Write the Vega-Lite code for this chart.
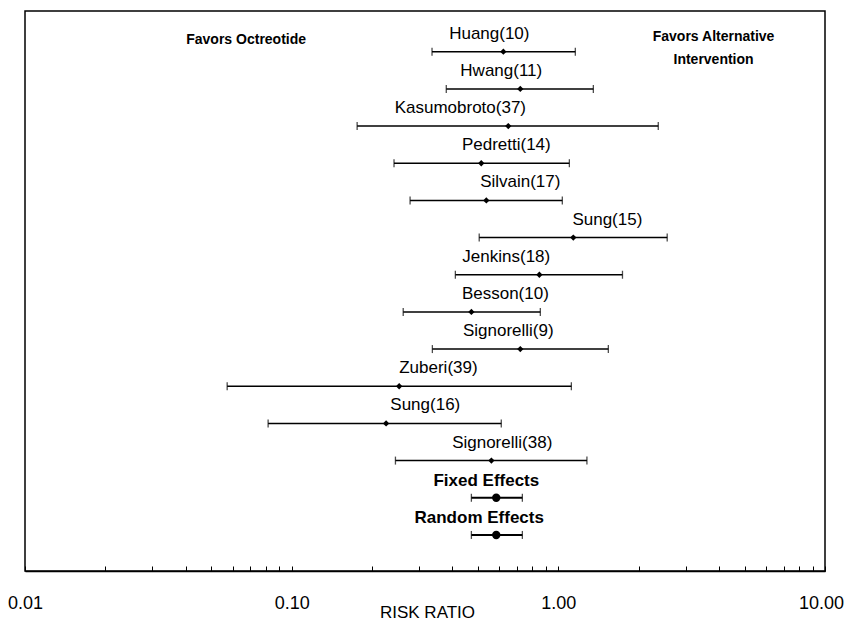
{
  "$schema": "https://vega.github.io/schema/vega-lite/v6.json",
  "width": 800,
  "height": 560,
  "autosize": {"type": "none"},
  "padding": {"left": 25, "top": 11, "right": 21, "bottom": 54},
  "background": "white",
  "config": {
    "view": {"stroke": "black", "strokeWidth": 1.5},
    "font": "Liberation Sans"
  },
  "datasets": {
    "studies": [
      {"study": "Huang(10)", "row": 1, "est": 0.622, "lo": 0.336, "hi": 1.158, "label_at": 0.551, "type": "study"},
      {"study": "Hwang(11)", "row": 2, "est": 0.720, "lo": 0.380, "hi": 1.353, "label_at": 0.611, "type": "study"},
      {"study": "Kasumobroto(37)", "row": 3, "est": 0.649, "lo": 0.176, "hi": 2.37, "label_at": 0.429, "type": "study"},
      {"study": "Pedretti(14)", "row": 4, "est": 0.514, "lo": 0.242, "hi": 1.10, "label_at": 0.638, "type": "study"},
      {"study": "Silvain(17)", "row": 5, "est": 0.537, "lo": 0.278, "hi": 1.035, "label_at": 0.720, "type": "study"},
      {"study": "Sung(15)", "row": 6, "est": 1.138, "lo": 0.505, "hi": 2.56, "label_at": 1.527, "type": "study"},
      {"study": "Jenkins(18)", "row": 7, "est": 0.849, "lo": 0.411, "hi": 1.74, "label_at": 0.638, "type": "study"},
      {"study": "Besson(10)", "row": 8, "est": 0.472, "lo": 0.262, "hi": 0.856, "label_at": 0.633, "type": "study"},
      {"study": "Signorelli(9)", "row": 9, "est": 0.720, "lo": 0.337, "hi": 1.54, "label_at": 0.649, "type": "study"},
      {"study": "Zuberi(39)", "row": 10, "est": 0.253, "lo": 0.0573, "hi": 1.119, "label_at": 0.355, "type": "study"},
      {"study": "Sung(16)", "row": 11, "est": 0.226, "lo": 0.0816, "hi": 0.611, "label_at": 0.317, "type": "study"},
      {"study": "Signorelli(38)", "row": 12, "est": 0.561, "lo": 0.245, "hi": 1.28, "label_at": 0.616, "type": "study"},
      {"study": "Fixed Effects", "row": 13, "est": 0.585, "lo": 0.472, "hi": 0.733, "label_at": 0.537, "type": "summary"},
      {"study": "Random Effects", "row": 14, "est": 0.585, "lo": 0.472, "hi": 0.733, "label_at": 0.505, "type": "summary"}
    ],
    "notes": [
      {"text": "Favors Octreotide", "x": 0.0675, "row": 0.685},
      {"text": "Favors Alternative\nIntervention", "x": 3.82, "row": 0.605}
    ]
  },
  "layer": [
    {
      "mark": {"type": "rule", "color": "black", "strokeWidth": 2},
      "encoding": {
        "x": {"datum": 1, "type": "quantitative", "title": "RISK RATIO",
              "scale": {"type": "log", "domain": [0.01, 10], "nice": false}}
      }
    },
    {
      "data": {"name": "studies"},
      "mark": {"type": "rule", "color": "black"},
      "encoding": {
        "x": {"field": "lo", "type": "quantitative", "title": "RISK RATIO",
              "scale": {"type": "log", "domain": [0.01, 10], "nice": false},
              "axis": {
                "values": [0.01,0.02,0.03,0.04,0.05,0.06,0.07,0.08,0.09,0.1,0.2,0.3,0.4,0.5,0.6,0.7,0.8,0.9,1,2,3,4,5,6,7,8,9,10],
                "labelExpr": "abs(log(datum.value)/LN10 - round(log(datum.value)/LN10)) < 0.000001 ? format(datum.value, '.2f') : ''",
                "grid": false,
                "domainColor": "black",
                "domainWidth": 1.5,
                "tickColor": "black",
                "tickWidth": 1,
                "tickSize": -5,
                "labelPadding": 37,
                "labelBaseline": "middle",
                "labelOffset": {"condition": {"test": "datum.value > 9.5", "value": -4}, "value": 0},
                "labelFont": "Liberation Sans",
                "labelFontSize": 18,
                "labelColor": "black",
                "labelOverlap": false,
                "labelFlush": false,
                "labelBound": false,
                "titleFont": "Liberation Sans",
                "titleFontSize": 17,
                "titleFontWeight": "normal",
                "titleColor": "black",
                "titleBaseline": "middle",
                "titleY": 41,
                "titleX": 402
              }},
        "x2": {"field": "hi"},
        "y": {"field": "row", "type": "quantitative",
              "scale": {"domain": [-0.095, 14.97], "reverse": true, "nice": false, "zero": false},
              "axis": null},
        "strokeWidth": {"condition": {"test": "datum.type === 'summary'", "value": 2}, "value": 1.5}
      }
    },
    {
      "data": {"name": "studies"},
      "mark": {"type": "tick", "orient": "vertical", "color": "black", "size": 8, "thickness": 1.3},
      "encoding": {
        "x": {"field": "lo", "type": "quantitative", "title": "RISK RATIO"},
        "y": {"field": "row", "type": "quantitative"}
      }
    },
    {
      "data": {"name": "studies"},
      "mark": {"type": "tick", "orient": "vertical", "color": "black", "size": 8, "thickness": 1.3},
      "encoding": {
        "x": {"field": "hi", "type": "quantitative", "title": "RISK RATIO"},
        "y": {"field": "row", "type": "quantitative"}
      }
    },
    {
      "data": {"name": "studies"},
      "mark": {"type": "point", "filled": true, "color": "black", "opacity": 1},
      "encoding": {
        "x": {"field": "est", "type": "quantitative", "title": "RISK RATIO"},
        "y": {"field": "row", "type": "quantitative"},
        "shape": {"condition": {"test": "datum.type === 'summary'", "value": "circle"}, "value": "diamond"},
        "size": {"condition": {"test": "datum.type === 'summary'", "value": 70}, "value": 40}
      }
    },
    {
      "data": {"name": "studies"},
      "transform": [{"filter": "datum.type === 'study'"}],
      "mark": {"type": "text", "color": "black", "fontSize": 17, "align": "center", "baseline": "middle", "dy": -18, "font": "Liberation Sans"},
      "encoding": {
        "x": {"field": "label_at", "type": "quantitative", "title": "RISK RATIO"},
        "y": {"field": "row", "type": "quantitative"},
        "text": {"field": "study"}
      }
    },
    {
      "data": {"name": "studies"},
      "transform": [{"filter": "datum.type === 'summary'"}],
      "mark": {"type": "text", "color": "black", "fontSize": 17, "fontWeight": "bold", "align": "center", "baseline": "middle", "dy": -17, "font": "Liberation Sans"},
      "encoding": {
        "x": {"field": "label_at", "type": "quantitative", "title": "RISK RATIO"},
        "y": {"field": "row", "type": "quantitative"},
        "text": {"field": "study"}
      }
    },
    {
      "data": {"name": "notes"},
      "mark": {"type": "text", "color": "black", "fontSize": 14, "fontWeight": "bold", "align": "center", "baseline": "middle", "lineBreak": "\n", "lineHeight": 23, "font": "Liberation Sans"},
      "encoding": {
        "x": {"field": "x", "type": "quantitative", "title": "RISK RATIO"},
        "y": {"field": "row", "type": "quantitative"},
        "text": {"field": "text"}
      }
    }
  ]
}
